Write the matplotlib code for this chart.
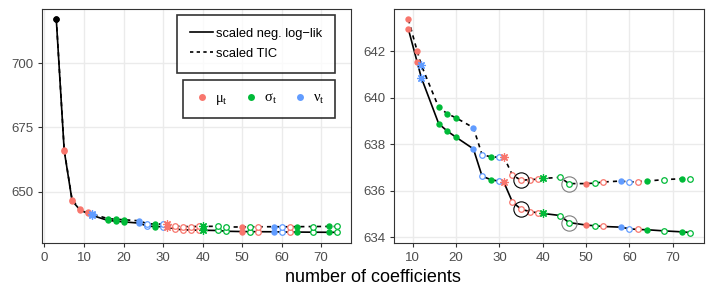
import numpy as np
import matplotlib
matplotlib.use("Agg")
from matplotlib import pyplot as plt
from matplotlib.lines import Line2D

plt.rcParams['font.family'] = ['Liberation Sans', 'DejaVu Sans']
plt.rcParams['mathtext.fontset'] = 'custom'
plt.rcParams['mathtext.rm'] = 'Liberation Serif'
plt.rcParams['mathtext.it'] = 'Liberation Serif:italic'

# model size, which parameter got the new term, marker kind (f filled, o open, a asterisk)
ncoef = [3, 5, 7, 9, 11, 12, 16, 18, 20, 24, 26, 28, 30, 31, 33, 35, 37, 39, 40,
         44, 46, 50, 52, 54, 58, 60, 62, 64, 68, 72, 74]
param = ['none', 'mu', 'mu', 'mu', 'mu', 'nu', 'sigma', 'sigma', 'sigma', 'nu', 'nu',
         'sigma', 'nu', 'mu', 'mu', 'mu', 'mu', 'mu', 'sigma', 'sigma', 'sigma', 'mu',
         'sigma', 'mu', 'nu', 'nu', 'mu', 'sigma', 'sigma', 'sigma', 'sigma']
kind = ['f', 'f', 'f', 'f', 'f', 'a', 'f', 'f', 'f', 'f', 'o', 'f', 'o', 'a', 'o', 'o',
        'o', 'o', 'a', 'o', 'o', 'f', 'o', 'o', 'f', 'o', 'o', 'f', 'o', 'f', 'o']
negll = [717.0, 666.0, 646.5, 642.94, 641.55, 640.85, 638.88, 638.56, 638.30, 637.80,
         636.63, 636.48, 636.41, 636.38, 635.52, 635.21, 635.11, 635.05, 635.03, 634.94,
         634.64, 634.53, 634.50, 634.47, 634.44, 634.37, 634.34, 634.33, 634.28, 634.24,
         634.21]
tic = [717.2, 666.3, 646.8, 643.36, 642.02, 641.39, 639.58, 639.31, 639.13, 638.71,
       637.55, 637.46, 637.44, 637.46, 636.68, 636.45, 636.48, 636.50, 636.53, 636.58,
       636.31, 636.31, 636.33, 636.38, 636.42, 636.38, 636.39, 636.42, 636.48, 636.52,
       636.50]
# highlighted models (right panel)
sel_x = [35, 46]
sel_col = ['black', '#7f7f7f']

cols = {'none': 'black', 'mu': '#F8766D', 'sigma': '#00BA38', 'nu': '#619CFF'}
par_labels = ['$\\mathrm{μ}_\\mathrm{t}$', '$\\mathrm{σ}_\\mathrm{t}$',
              '$\\mathrm{ν}_\\mathrm{t}$']

x = np.array(ncoef)
y1 = np.array(negll)
y2 = np.array(tic)


def draw(ax, start, circles):
    xs = x[start:]
    for yy, ls in [(y1[start:], '-'), (y2[start:], (0, (2.5, 2.5)))]:
        ax.plot(xs, yy, color='black', lw=1.2, ls=ls, zorder=2)
    for yy in [y1, y2]:
        for i in range(start, len(x)):
            c = cols[param[i]]
            if kind[i] == 'f':
                ax.plot(x[i], yy[i], 'o', ms=4.6, color=c, mec='none', zorder=3)
            elif kind[i] == 'o':
                ax.plot(x[i], yy[i], 'o', ms=4.0, mfc='white', mec=c, mew=0.9, zorder=3)
            else:
                ax.plot(x[i], yy[i], marker=(8, 2, 0), ms=6, color=c, mew=0.9,
                        ls='none', zorder=3)
        if circles:
            for sx, sc in zip(sel_x, sel_col):
                j = ncoef.index(sx)
                ax.plot(sx, yy[j], 'o', ms=11, mfc='none', mec=sc, mew=0.8, zorder=4)
    ax.grid(True, color='#EBEBEB', lw=1.0)
    ax.set_axisbelow(True)
    for s in ax.spines.values():
        s.set_color('#333333')
        s.set_linewidth(0.8)
    ax.tick_params(colors='#333333', labelcolor='#4D4D4D', labelsize=9.5, length=3,
                   width=0.8)


fig = plt.figure(figsize=(7.14, 2.97), dpi=100)
ax1 = fig.add_axes([0.0592, 0.182, 0.4324, 0.788])
ax2 = fig.add_axes([0.5522, 0.181, 0.4342, 0.790])

draw(ax1, 0, False)
ax1.set_xlim(-0.55, 77.55)
ax1.set_ylim(630.1, 721.1)
ax1.set_xticks(range(0, 71, 10))
ax1.set_yticks([650, 675, 700])

draw(ax2, 3, True)
ax2.set_xlim(5.75, 77.25)
ax2.set_ylim(633.75, 643.82)
ax2.set_xticks(range(10, 71, 10))
ax2.set_yticks(range(634, 643, 2))

h_lines = [Line2D([], [], color='black', lw=1.2, ls='-'),
           Line2D([], [], color='black', lw=1.2, ls=(0, (2, 2)))]
leg1 = ax1.legend(h_lines, ['scaled neg. log\u2212lik', 'scaled TIC'],
                  loc='upper right', bbox_to_anchor=(0.949, 0.974), fontsize=9.3,
                  frameon=True, fancybox=False, edgecolor='black', handlelength=1.75,
                  handletextpad=0.26, borderpad=1.0, labelspacing=0.6, borderaxespad=0)
leg1.get_frame().set_linewidth(1.2)
ax1.add_artist(leg1)

h_pts = [Line2D([], [], marker='o', ls='none', ms=5, color=cols[k], mec='none')
         for k in ['mu', 'sigma', 'nu']]
leg2 = ax1.legend(h_pts, par_labels,
                  loc='upper right', bbox_to_anchor=(0.949, 0.696), fontsize=10.5, ncol=3,
                  frameon=True, fancybox=False, edgecolor='black', handlelength=1.1,
                  handletextpad=0.35, columnspacing=1.0, borderpad=0.75, borderaxespad=0)
leg2.get_frame().set_linewidth(1.2)

fig.text(0.523, 0.064, 'number of coefficients', ha='center', va='center', fontsize=13)

fig.savefig('out.png', dpi=100)
